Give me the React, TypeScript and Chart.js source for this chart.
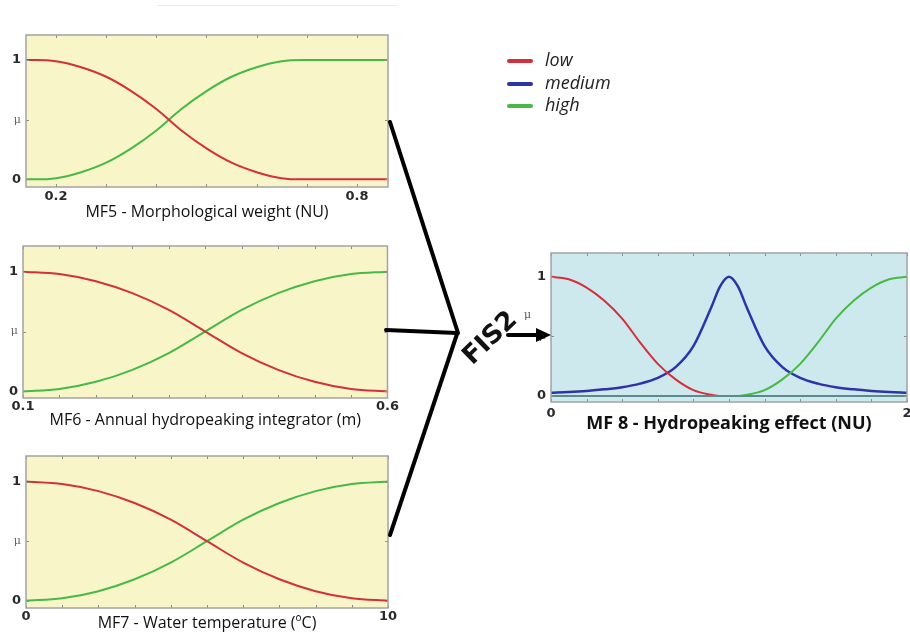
import React, { useEffect, useRef } from "react";
import { Chart, registerables } from "chart.js";

Chart.register(...registerables);

// ---------- data ----------
const seriesNames = ["low", "medium", "high"];
const seriesColors = ["#d2303c", "#2c34a6", "#46b946"];

// MF5 - Morphological weight (NU)
const mf5X = [0.14, 0.16, 0.2, 0.25, 0.3, 0.35, 0.4, 0.45, 0.5, 0.55, 0.6, 0.65, 0.69, 0.86];
const mf5Low = [1, 1, 0.99, 0.94, 0.86, 0.74, 0.59, 0.41, 0.26, 0.14, 0.06, 0.01, 0, 0];
const mf5High = [0, 0, 0.01, 0.06, 0.14, 0.26, 0.41, 0.59, 0.74, 0.86, 0.94, 0.99, 1, 1];
const mf5Ticks = [0.2, 0.3, 0.4, 0.5, 0.6, 0.7, 0.8];
const mf5TickLabels = ["0.2", "", "", "", "", "", "0.8"];

// MF6 - Annual hydropeaking integrator (m)
const mf6X = [0.1, 0.15, 0.2, 0.25, 0.3, 0.35, 0.4, 0.45, 0.5, 0.55, 0.6];
const mf6Low = [1, 0.98, 0.92, 0.82, 0.68, 0.5, 0.32, 0.18, 0.08, 0.02, 0];
const mf6High = [0, 0.02, 0.08, 0.18, 0.32, 0.5, 0.68, 0.82, 0.92, 0.98, 1];
const mf6Ticks = [0.1, 0.15, 0.2, 0.25, 0.3, 0.35, 0.4, 0.45, 0.5, 0.55, 0.6];
const mf6TickLabels = ["0.1", "", "", "", "", "", "", "", "", "", "0.6"];

// MF7 - Water temperature (ºC)
const mf7X = [0, 1, 2, 3, 4, 5, 6, 7, 8, 9, 10];
const mf7Low = [1, 0.98, 0.92, 0.82, 0.68, 0.5, 0.32, 0.18, 0.08, 0.02, 0];
const mf7High = [0, 0.02, 0.08, 0.18, 0.32, 0.5, 0.68, 0.82, 0.92, 0.98, 1];
const mf7Ticks = [0, 1, 2, 3, 4, 5, 6, 7, 8, 9, 10];
const mf7TickLabels = ["0", "", "", "", "", "", "", "", "", "", "10"];

// MF 8 - Hydropeaking effect (NU)
const mf8LowX = [0, 0.1, 0.2, 0.3, 0.4, 0.5, 0.6, 0.7, 0.8, 0.9, 0.95];
const mf8Low = [1, 0.98, 0.91, 0.8, 0.65, 0.45, 0.27, 0.14, 0.05, 0.01, 0];
const mf8MedX = [0, 0.1, 0.2, 0.3, 0.4, 0.5, 0.6, 0.7, 0.8, 0.9, 0.95, 1, 1.05, 1.1, 1.2, 1.3, 1.4, 1.5, 1.6, 1.7, 1.8, 1.9, 2];
const mf8Med = [0.028, 0.034, 0.043, 0.056, 0.074, 0.104, 0.153, 0.243, 0.419, 0.743, 0.92, 1, 0.92, 0.743, 0.419, 0.243, 0.153, 0.104, 0.074, 0.056, 0.043, 0.034, 0.028];
const mf8HighX = [1.05, 1.1, 1.2, 1.3, 1.4, 1.5, 1.6, 1.7, 1.8, 1.9, 2];
const mf8High = [0, 0.01, 0.05, 0.14, 0.27, 0.45, 0.65, 0.8, 0.91, 0.98, 1];
const mf8BaseX = [0, 2];
const mf8Base = [0, 0];
const mf8Ticks = [0, 0.2, 0.4, 0.6, 0.8, 1, 1.2, 1.4, 1.6, 1.8, 2];
const mf8TickLabels = ["0", "", "", "", "", "", "", "", "", "", "2"];

const yTicks = [0, 0.5, 1];
const yTickLabels = ["0", "\u03bc", "1"];

// ---------- helpers ----------
const pts = (xs: number[], ys: number[]) => xs.map((x, i) => ({ x, y: ys[i] }));

const line = (xs: number[], ys: number[], color: string, width = 2) => ({
  data: pts(xs, ys),
  borderColor: color,
  borderWidth: width,
  pointRadius: 0,
  fill: false,
  cubicInterpolationMode: "monotone" as const,
  tension: 0.4,
});

const framePlugin = {
  id: "frame",
  beforeDraw(chart: any, _a: any, opts: any) {
    const { ctx, chartArea: a } = chart;
    ctx.save();
    ctx.fillStyle = opts.bg;
    ctx.fillRect(a.left, a.top, a.right - a.left, a.bottom - a.top);
    ctx.restore();
  },
  afterDatasetsDraw(chart: any) {
    const { ctx, chartArea: a, scales } = chart;
    ctx.save();
    ctx.strokeStyle = "#8c8c8c";
    ctx.lineWidth = 1;
    ctx.beginPath();
    scales.x.ticks.forEach((t: any) => {
      const px = Math.round(scales.x.getPixelForValue(t.value)) + 0.5;
      ctx.moveTo(px, a.top);
      ctx.lineTo(px, a.top + 3);
      ctx.moveTo(px, a.bottom);
      ctx.lineTo(px, a.bottom - 3);
    });
    scales.y.ticks.forEach((t: any) => {
      const py = Math.round(scales.y.getPixelForValue(t.value)) + 0.5;
      ctx.moveTo(a.left, py);
      ctx.lineTo(a.left + 3, py);
      ctx.moveTo(a.right, py);
      ctx.lineTo(a.right - 3, py);
    });
    ctx.stroke();
    ctx.strokeStyle = "#a3a3a3";
    ctx.lineWidth = 1.5;
    ctx.strokeRect(a.left, a.top, a.right - a.left, a.bottom - a.top);
    ctx.restore();
  },
};

type PanelProps = {
  left: number;
  top: number;
  width: number;
  height: number;
  padding: { left: number; right: number; top: number; bottom: number };
  yWidth: number;
  xHeight: number;
  xMin: number;
  xMax: number;
  yMin: number;
  yMax: number;
  xTicks: number[];
  xTickLabels: string[];
  xTickPad: number;
  datasets: any[];
  title: string;
  titleFont: any;
  titlePad: number;
  bg: string;
};

function Panel(p: PanelProps) {
  const ref = useRef<HTMLCanvasElement | null>(null);
  useEffect(() => {
    if (!ref.current) return;
    const chart = new Chart(ref.current, {
      type: "line",
      data: { datasets: p.datasets },
      plugins: [framePlugin],
      options: {
        animation: false,
        responsive: false,
        devicePixelRatio: 1,
        layout: { padding: p.padding },
        plugins: {
          legend: { display: false },
          tooltip: { enabled: false },
          frame: { bg: p.bg },
        } as any,
        scales: {
          x: {
            type: "linear",
            min: p.xMin,
            max: p.xMax,
            afterBuildTicks: (s: any) => {
              s.ticks = p.xTicks.map((v) => ({ value: v }));
            },
            afterFit: (s: any) => {
              s.height = p.xHeight;
            },
            grid: { display: false, drawTicks: false },
            border: { display: false },
            ticks: {
              autoSkip: false,
              maxRotation: 0,
              padding: p.xTickPad,
              color: "#2a2a2a",
              font: { family: "DejaVu Sans", size: 13, weight: "bold" },
              callback: (_v: any, i: number) => p.xTickLabels[i],
            },
            title: {
              display: true,
              text: p.title,
              color: "#111",
              font: p.titleFont,
              padding: { top: 0, bottom: p.titlePad },
            },
          },
          y: {
            type: "linear",
            min: p.yMin,
            max: p.yMax,
            afterBuildTicks: (s: any) => {
              s.ticks = yTicks.map((v) => ({ value: v }));
            },
            afterFit: (s: any) => {
              s.width = p.yWidth;
            },
            grid: { display: false, drawTicks: false },
            border: { display: false },
            ticks: {
              padding: 5,
              color: (c: any) => (c.tick && c.tick.value === 0.5 ? "#666" : "#2a2a2a"),
              font: (c: any) =>
                c.tick && c.tick.value === 0.5
                  ? { family: "DejaVu Serif", size: 11 }
                  : { family: "DejaVu Sans", size: 13, weight: "bold" },
              callback: (_v: any, i: number) => yTickLabels[i],
            },
          },
        },
      } as any,
    });
    return () => chart.destroy();
  }, []);
  return (
    <canvas
      ref={ref}
      width={p.width}
      height={p.height}
      style={{ position: "absolute", left: p.left, top: p.top, width: p.width, height: p.height }}
    />
  );
}

const yellow = "#f8f6c9";
const blueBg = "#cde9ee";
const titleFont = { family: "Open Sans", size: 16 };

export default function App() {
  const [red, blue, green] = seriesColors;
  return (
    <div
      style={{
        position: "absolute",
        left: 0,
        top: 0,
        width: 910,
        height: 634,
        overflow: "hidden",
        background: "#fff",
        fontFamily: "Open Sans, sans-serif",
      }}
    >
      <div style={{ position: "absolute", left: 157, top: 5, width: 240, height: 1, background: "#efebd6" }} />
      <Panel
        left={0}
        top={20}
        width={400}
        height={210}
        padding={{ left: 0, right: 12, top: 15, bottom: 0 }}
        yWidth={26}
        xHeight={43}
        xMin={0.14}
        xMax={0.862}
        yMin={-0.064}
        yMax={1.21}
        xTicks={mf5Ticks}
        xTickLabels={mf5TickLabels}
        xTickPad={2}
        datasets={[line(mf5X, mf5Low, red), line(mf5X, mf5High, green)]}
        title="MF5 - Morphological weight (NU)"
        titleFont={titleFont}
        titlePad={8}
        bg={yellow}
      />
      <Panel
        left={0}
        top={231}
        width={400}
        height={204}
        padding={{ left: 0, right: 12, top: 15, bottom: 0 }}
        yWidth={23}
        xHeight={37}
        xMin={0.1}
        xMax={0.6}
        yMin={-0.055}
        yMax={1.214}
        xTicks={mf6Ticks}
        xTickLabels={mf6TickLabels}
        xTickPad={1}
        datasets={[line(mf6X, mf6Low, red), line(mf6X, mf6High, green)]}
        title="MF6 - Annual hydropeaking integrator (m)"
        titleFont={titleFont}
        titlePad={5}
        bg={yellow}
      />
      <Panel
        left={0}
        top={441}
        width={400}
        height={193}
        padding={{ left: 0, right: 12, top: 15, bottom: 0 }}
        yWidth={26}
        xHeight={26}
        xMin={0}
        xMax={10}
        yMin={-0.061}
        yMax={1.215}
        xTicks={mf7Ticks}
        xTickLabels={mf7TickLabels}
        xTickPad={1}
        datasets={[line(mf7X, mf7Low, red), line(mf7X, mf7High, green)]}
        title="MF7 - Water temperature (ºC)"
        titleFont={titleFont}
        titlePad={1}
        bg={yellow}
      />
      <Panel
        left={520}
        top={238}
        width={400}
        height={202}
        padding={{ left: 0, right: 13, top: 15, bottom: 0 }}
        yWidth={31}
        xHeight={38}
        xMin={0}
        xMax={2}
        yMin={-0.05}
        yMax={1.2}
        xTicks={mf8Ticks}
        xTickLabels={mf8TickLabels}
        xTickPad={4}
        datasets={[
          line(mf8BaseX, mf8Base, "#5a8a8c", 2),
          line(mf8LowX, mf8Low, red),
          line(mf8HighX, mf8High, green),
          line(mf8MedX, mf8Med, blue, 2.5),
        ]}
        title="MF 8 - Hydropeaking effect (NU)"
        titleFont={{ family: "Open Sans", size: 18, weight: "bold" }}
        titlePad={5}
        bg={blueBg}
      />

      {/* connectors */}
      <svg width={910} height={634} style={{ position: "absolute", left: 0, top: 0 }}>
        <g stroke="#000" strokeWidth={4} strokeLinecap="round" fill="none">
          <line x1={390} y1={122} x2={458} y2={333} />
          <line x1={386} y1={330} x2={457} y2={333} />
          <line x1={390} y1={535} x2={457} y2={334} />
          <line x1={508} y1={335} x2={538} y2={335} />
        </g>
        <polygon points="536,328 551,335 536,342" fill="#000" />
      </svg>
      <div
        style={{
          position: "absolute",
          left: 489,
          top: 337,
          transform: "translate(-50%, -50%) rotate(-44deg)",
          fontFamily: "DejaVu Sans",
          fontWeight: "bold",
          fontSize: 26,
          color: "#111",
          whiteSpace: "nowrap",
          lineHeight: 1,
        }}
      >
        FIS2
      </div>
      <div
        style={{
          position: "absolute",
          left: 524,
          top: 309,
          fontFamily: "DejaVu Serif",
          fontSize: 11,
          color: "#555",
          lineHeight: 1,
        }}
      >
        {"\u03bc"}
      </div>

      {/* legend */}
      {seriesNames.map((name, i) => (
        <div key={name} style={{ position: "absolute", left: 507, top: 48 + i * 22.5, height: 22 }}>
          <div
            style={{
              position: "absolute",
              left: 0,
              top: 11,
              width: 26,
              height: 4,
              borderRadius: 2,
              background: seriesColors[i],
            }}
          />
          <div
            style={{
              position: "absolute",
              left: 38,
              top: 0,
              fontStyle: "italic",
              fontSize: 18,
              color: "#222",
              whiteSpace: "nowrap",
              lineHeight: "22px",
            }}
          >
            {name}
          </div>
        </div>
      ))}
    </div>
  );
}
